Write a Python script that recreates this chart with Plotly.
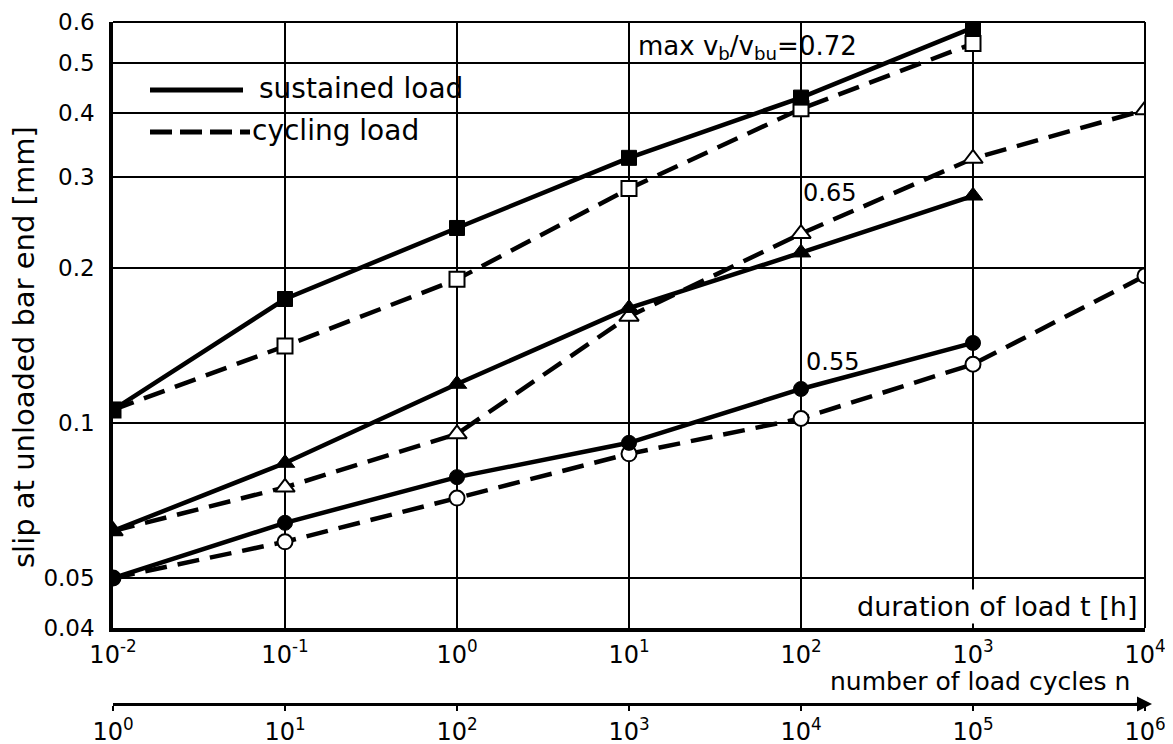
import plotly.graph_objects as go

# ---------------- data ----------------
t_hours = [1e-2, 1e-1, 1e0, 1e1, 1e2, 1e3, 1e4]          # duration of load t [h]
sustained_072 = [0.106, 0.174, 0.239, 0.327, 0.428, 0.585]
cycling_072 = [0.106, 0.141, 0.190, 0.285, 0.407, 0.545]
sustained_065 = [0.0617, 0.0836, 0.119, 0.167, 0.214, 0.276]
cycling_065 = [0.0617, 0.0750, 0.0952, 0.161, 0.233, 0.326, 0.405]
sustained_055 = [0.050, 0.064, 0.0785, 0.0915, 0.1164, 0.143]
cycling_055 = [0.050, 0.0588, 0.0715, 0.0871, 0.102, 0.130, 0.193]

t_labels = ["10<sup>-2</sup>", "10<sup>-1</sup>", "10<sup>0</sup>", "10<sup>1</sup>",
            "10<sup>2</sup>", "10<sup>3</sup>", "10<sup>4</sup>"]
n_cycles = [1e0, 1e1, 1e2, 1e3, 1e4, 1e5, 1e6]           # number of load cycles n
n_labels = ["10<sup>0</sup>", "10<sup>1</sup>", "10<sup>2</sup>", "10<sup>3</sup>",
            "10<sup>4</sup>", "10<sup>5</sup>", "10<sup>6</sup>"]
y_ticks = [0.04, 0.05, 0.1, 0.2, 0.3, 0.4, 0.5, 0.6]
y_labels = ["0.04", "0.05", "0.1", "0.2", "0.3", "0.4", "0.5", "0.6"]

# ---------------- layout helpers ----------------
# page body has an 8px margin, so the figure is shifted by 8px; all
# positions below are given in window pixels
OFF = 8
WIN_W, WIN_H = 1173, 744
W, H = WIN_W - OFF, WIN_H
L, R, T, B = 113, 1145, 22, 628
FONT = "DejaVu Sans"


def px(x):
    return (x - L) / (R - L)


def py(y):
    return (WIN_H - y) / (WIN_H - T)


solid = dict(color="black", width=4.5)
dashed = dict(color="black", width=4.5, dash="22px,11px")

fig = go.Figure()


def add_pair(sus, cyc, symbol, size):
    fig.add_trace(go.Scatter(
        x=t_hours[:len(cyc)], y=cyc, mode="lines+markers", line=dashed,
        marker=dict(symbol=symbol, size=size, color="white",
                    line=dict(color="black", width=2)),
        showlegend=False, hoverinfo="skip"))
    fig.add_trace(go.Scatter(
        x=t_hours[:len(sus)], y=sus, mode="lines+markers", line=solid,
        marker=dict(symbol=symbol, size=size, color="black",
                    line=dict(color="black", width=1)),
        showlegend=False, hoverinfo="skip"))


add_pair(sustained_072, cycling_072, "square", 15)
add_pair(sustained_065, cycling_065, "triangle-up", 17)
add_pair(sustained_055, cycling_055, "circle", 15)

# invisible trace so the second (cycles) axis is drawn
fig.add_trace(go.Scatter(x=[n_cycles[0], n_cycles[-1]], y=[0.05, 0.05], xaxis="x2",
                         mode="markers", marker=dict(opacity=0), showlegend=False,
                         hoverinfo="skip"))

tickfont = dict(family=FONT, size=24, color="black")

fig.update_layout(
    width=W, height=H,
    margin=dict(l=L - OFF, r=WIN_W - R, t=T - OFF, b=OFF, autoexpand=False),
    paper_bgcolor="white", plot_bgcolor="white",
    font=dict(family=FONT, color="black"),
    showlegend=False,
    xaxis=dict(type="log", range=[-2, 4], tickvals=t_hours, ticktext=t_labels,
               showgrid=True, gridcolor="black", gridwidth=1.5,
               showline=True, linecolor="black", linewidth=3.5,
               ticks="", tickfont=tickfont, ticklabelstandoff=2,
               zeroline=False, automargin=False, anchor="y"),
    xaxis2=dict(type="log", range=[0, 6], overlaying="x", anchor="free",
                position=py(704), side="bottom",
                tickvals=n_cycles, ticktext=n_labels, showgrid=False,
                showline=True, linecolor="black", linewidth=3,
                ticks="outside", ticklen=5, tickwidth=2, tickcolor="black",
                tickfont=tickfont, zeroline=False, automargin=False),
    yaxis=dict(type="log", range=[-1.39794, -0.221849], domain=[py(B), 1],
               tickvals=y_ticks, ticktext=y_labels,
               showgrid=True, gridcolor="black", gridwidth=1.5,
               showline=True, linecolor="black", linewidth=3.5,
               ticks="", ticklabelstandoff=10,
               tickfont=dict(family=FONT, size=23, color="black"),
               zeroline=False, automargin=False),
)

shapes = [
    # top and right frame
    dict(type="line", xref="paper", yref="paper", x0=0, x1=1, y0=1, y1=1,
         line=dict(color="black", width=2)),
    dict(type="line", xref="paper", yref="paper", x0=1, x1=1, y0=py(B), y1=1,
         line=dict(color="black", width=2)),
    # legend box (white, hides grid)
    dict(type="rect", xref="paper", yref="paper", x0=px(143), x1=px(476),
         y0=py(158), y1=py(74), fillcolor="white", line=dict(width=0), layer="between"),
    dict(type="line", xref="paper", yref="paper", x0=px(150), x1=px(243),
         y0=py(90), y1=py(90), line=dict(color="black", width=5)),
    dict(type="line", xref="paper", yref="paper", x0=px(150), x1=px(250),
         y0=py(132), y1=py(132), line=dict(color="black", width=5, dash="22px,8px")),
]
fig.update_layout(shapes=shapes)

ann = [
    dict(text="slip at unloaded bar end [mm]", x=px(24), y=py(347), textangle=-90,
         font=dict(size=29)),
    dict(text="sustained load", x=px(257), y=py(88), xanchor="left", font=dict(size=28)),
    dict(text="cycling load", x=px(250), y=py(130), xanchor="left", font=dict(size=28)),
    dict(text="max v<sub>b</sub>/v<sub>bu</sub>=0.72", x=px(636), y=py(47),
         xanchor="left", font=dict(size=26)),
    dict(text="0.65", x=px(801), y=py(193), xanchor="left", font=dict(size=24)),
    dict(text="0.55", x=px(804), y=py(362), xanchor="left", font=dict(size=24)),
    dict(text="duration of load t [h]", x=px(1139), y=py(606), xanchor="right",
         font=dict(size=27), bgcolor="white"),
    dict(text="number of load cycles n", x=px(1132), y=py(681), xanchor="right",
         font=dict(size=25)),
    dict(text="", x=px(1152), y=py(704), ax=-18, ay=0, showarrow=True,
         arrowhead=2, arrowsize=1.2, arrowwidth=2.5, arrowcolor="black"),
]
for a in ann:
    a.setdefault("xref", "paper")
    a.setdefault("yref", "paper")
    a.setdefault("showarrow", False)
    a.setdefault("xanchor", "center")
    a.setdefault("yanchor", "middle")
    a["font"] = dict(family=FONT, color="black", **a.get("font", {}))
    fig.add_annotation(**a)

fig.write_html("out.html")
